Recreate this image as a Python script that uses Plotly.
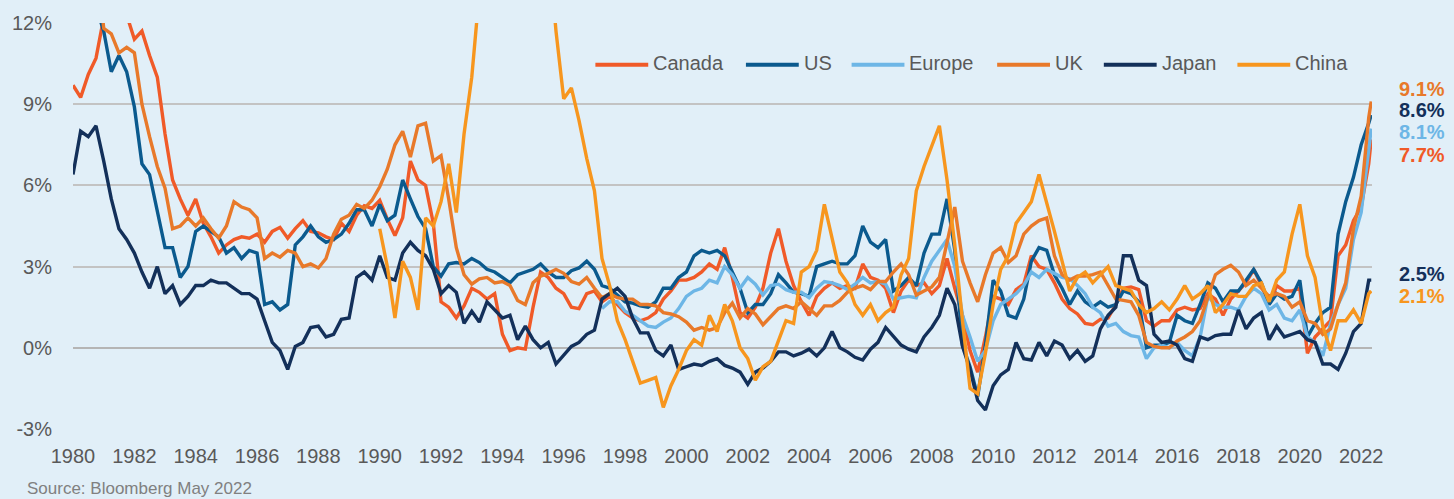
import pandas as pd
import plotly.graph_objects as go

# ---------------- data (quarterly readings, YoY CPI %) ----------------
dates = list(pd.date_range("1980-01-01", "2022-04-01", freq="QS")) + [pd.Timestamp("2022-05-01")]

canada = [
    9.7, 9.25, 10.1, 10.7,  12.2, 12.6, 12.8, 12.3,  11.4, 11.7, 10.8, 10.0,  7.9, 6.2, 5.5, 4.9,
    5.5, 4.6, 4.1, 3.5,  3.8, 4.0, 4.1, 4.05,  4.2, 3.9, 4.3, 4.45,  4.05, 4.4, 4.7, 4.3,
    4.25, 4.1, 4.0, 4.6,  4.3, 4.9, 5.25, 5.15,  5.45, 4.75, 4.15, 4.8,  6.9, 6.2, 6.0, 4.6,
    1.7, 1.5, 1.1, 1.55,  2.2, 2.05, 1.8, 2.0,  0.5, -0.1, 0.0, -0.05,  1.5, 2.8, 2.6, 2.2,
    2.0, 1.5, 1.45, 2.0,  2.1, 1.7, 1.9, 1.6,  1.3, 1.1, 1.0, 1.1,  1.3, 1.8, 2.1, 2.5,
    2.5, 2.6, 2.8, 3.1,  2.9, 3.7, 2.6, 1.3,  1.1, 1.5, 2.2, 3.5,  4.4, 3.2, 2.3, 1.7,
    1.2, 1.9, 2.2, 2.4,  2.2, 2.3, 2.2, 3.1,  2.6, 2.5, 2.2, 1.3,  2.1, 2.5, 2.3, 2.4,
    2.0, 2.3, 3.3, 2.2,  1.2, -0.1, -0.9, 0.4,  1.9, 1.8, 1.6, 2.15,  2.35, 3.4, 3.0, 2.9,
    2.4, 1.8, 1.45, 1.25,  0.9, 0.85, 1.05, 1.1,  1.6, 2.2, 2.25, 2.15,  1.0, 0.8, 1.0, 1.0,
    1.4, 1.5, 1.4, 1.45,  2.0, 1.8, 1.2, 1.8,  2.1, 2.4, 2.9, 2.3,  1.6, 2.3, 2.1, 2.1,
    2.2, -0.2, 0.4, 0.7,  1.0, 3.4, 3.8, 4.7,  5.2, 6.8, 7.7,
]

us = [
    13.9, 14.7, 13.1, 12.6,  11.7, 10.2, 10.8, 10.2,  8.9, 6.8, 6.4, 5.0,  3.7, 3.7, 2.6, 3.0,
    4.3, 4.5, 4.3, 4.1,  3.5, 3.7, 3.3, 3.6,  3.5, 1.6, 1.7, 1.4,  1.6, 3.8, 4.1, 4.5,
    4.1, 3.9, 4.0, 4.2,  4.6, 5.1, 5.1, 4.5,  5.3, 4.7, 4.9, 6.2,  5.5, 4.85, 4.4, 3.0,
    2.65, 3.1, 3.15, 3.1,  3.3, 3.15, 2.9, 2.8,  2.6, 2.4, 2.7, 2.8,  2.9, 3.1, 2.8, 2.6,
    2.6, 2.85, 2.95, 3.2,  2.9, 2.3, 2.2, 1.95,  1.7, 1.65, 1.55, 1.5,  1.7, 2.2, 2.2, 2.6,
    2.8, 3.4, 3.6, 3.5,  3.6, 3.4, 2.8, 2.2,  1.3, 1.6, 1.6, 2.0,  2.7, 2.4, 2.05, 2.0,
    1.9, 3.0, 3.1, 3.2,  3.1, 3.1, 3.4, 4.5,  3.9, 3.7, 4.0, 2.1,  2.3, 2.6, 2.3, 3.5,
    4.2, 4.2, 5.5, 3.6,  0.1, -0.7, -1.8, 0.1,  2.5, 2.1, 1.2, 1.1,  1.8, 3.2, 3.7, 3.6,
    2.7, 2.2, 1.6, 2.1,  1.7, 1.5, 1.7, 1.5,  1.6, 2.1, 2.0, 1.7,  0.0, 0.1, 0.1, 0.2,
    1.2, 1.0, 0.9, 1.6,  2.4, 2.2, 1.7, 2.1,  2.1, 2.5, 2.9, 2.4,  1.6, 2.0, 1.8, 1.9,
    2.5, 0.4, 0.9, 1.3,  1.5, 4.2, 5.4, 6.3,  7.5, 8.3, 8.6,
]

europe = [None] * 69 + [
    1.45, 1.7, 1.7,  1.35, 1.2, 1.0, 0.8,  0.75, 0.95, 1.1, 1.45,
    1.9, 2.1, 2.2, 2.5,  2.4, 3.0, 2.7, 2.2,  2.6, 2.35, 1.95, 2.3,  2.35, 2.15, 2.05, 2.05,
    1.85, 2.2, 2.45, 2.4,  2.3, 2.15, 2.35, 2.6,  2.4, 2.45, 2.35, 1.8,  1.85, 1.9, 1.85, 2.6,
    3.2, 3.6, 4.0, 3.0,  1.2, 0.4, -0.5, -0.1,  1.0, 1.6, 1.8, 2.0,  2.3, 2.8, 2.6, 2.9,
    2.75, 2.6, 2.55, 2.3,  2.0, 1.5, 1.3, 0.8,  0.9, 0.6, 0.45, 0.4,  -0.4, 0.0, 0.1, 0.0,
    0.2, -0.1, -0.3, 0.4,  1.9, 1.6, 1.5, 1.5,  1.4, 1.9, 2.2, 2.0,  1.4, 1.6, 1.1, 1.0,
    1.4, 0.4, 0.2, -0.3,  0.9, 1.6, 2.2, 4.0,  5.0, 7.4, 8.1,
]

uk = [
    18.4, 21.0, 16.9, 14.5,  11.8, 11.6, 10.9, 11.1,  10.9, 9.0, 7.8, 6.7,  5.9, 4.4, 4.5, 4.8,
    4.5, 4.8, 4.4, 4.05,  4.5, 5.4, 5.2, 5.1,  4.8, 3.3, 3.5, 3.35,  3.6, 3.5, 3.0, 3.1,
    2.95, 3.3, 4.2, 4.75,  4.9, 5.3, 5.15, 5.45,  5.95, 6.6, 7.5, 8.0,  7.05, 8.2, 8.3, 6.9,
    7.1, 5.5, 3.7, 2.7,  2.35, 2.55, 2.6, 2.4,  2.45, 2.3, 1.75, 1.6,  2.4, 2.65, 2.75, 2.9,
    2.75, 2.45, 2.35, 2.6,  2.2, 1.85, 2.0, 1.85,  1.8, 1.8, 1.6, 1.6,  1.55, 1.3, 1.25, 1.15,
    0.95, 0.65, 0.75, 0.65,  0.75, 1.3, 1.65, 1.1,  1.45, 1.25, 0.85, 1.15,  1.45, 1.55, 1.45, 1.7,
    1.45, 1.2, 1.55, 1.55,  1.75, 2.05, 2.2, 2.3,  2.15, 2.45, 2.45, 2.8,  3.1, 2.7, 1.95, 2.1,
    2.25, 2.6, 3.9, 5.2,  3.2, 2.4, 1.7, 2.7,  3.5, 3.7, 3.15, 3.4,  4.2, 4.5, 4.7, 4.8,
    3.4, 2.7, 2.5, 2.65,  2.65, 2.7, 2.8, 2.3,  1.8, 1.75, 1.7, 1.2,  0.2, 0.05, 0.0, 0.0,
    0.25, 0.4, 0.6, 1.0,  1.9, 2.7, 2.9, 3.05,  2.8, 2.3, 2.5, 2.2,  1.9, 2.0, 1.9, 1.5,
    1.7, 1.0, 0.9, 0.5,  0.7, 1.6, 2.4, 4.4,  5.6, 8.5, 9.1,
]

japan = [
    6.4, 8.0, 7.8, 8.2,  6.9, 5.5, 4.4, 4.0,  3.5, 2.8, 2.2, 3.0,  2.0, 2.3, 1.6, 1.9,
    2.3, 2.3, 2.5, 2.4,  2.4, 2.2, 2.0, 2.0,  1.8, 1.0, 0.2, -0.1,  -0.8, 0.05, 0.2, 0.75,
    0.8, 0.4, 0.5, 1.05,  1.1, 2.6, 2.8, 2.5,  3.4, 2.6, 2.5, 3.5,  3.9, 3.6, 3.4, 2.9,
    2.0, 2.3, 2.05, 0.9,  1.35, 0.95, 1.7, 1.4,  1.1, 1.2, 0.3, 0.8,  0.3, 0.0, 0.2, -0.6,
    -0.25, 0.05, 0.2, 0.5,  0.65, 1.8, 2.0, 2.2,  1.9, 1.1, 0.55, 0.55,  -0.1, -0.3, 0.1, -0.8,
    -0.7, -0.6, -0.65, -0.5,  -0.4, -0.65, -0.75, -0.9,  -1.35, -0.9, -0.75, -0.5,  -0.15, -0.15, -0.3, -0.2,
    -0.05, -0.3, 0.0, 0.6,  0.0, -0.15, -0.35, -0.45,  -0.05, 0.2, 0.75, 0.4,  0.1, -0.05, -0.15, 0.4,
    0.75, 1.2, 2.2, 1.6,  0.05, -0.8, -1.95, -2.3,  -1.4, -1.0, -0.8, 0.2,  -0.4, -0.45, 0.2, -0.3,
    0.25, 0.1, -0.4, -0.1,  -0.5, -0.3, 0.7, 1.2,  1.5, 3.4, 3.4, 2.5,  2.3, 0.5, 0.2, 0.25,
    0.1, -0.4, -0.5, 0.4,  0.3, 0.45, 0.5, 0.5,  1.4, 0.7, 1.1, 1.3,  0.3, 0.8, 0.4, 0.5,
    0.6, 0.3, 0.2, -0.6,  -0.6, -0.8, -0.2, 0.6,  0.9, 2.5, 2.5,
]

china = [None] * 40 + [
    4.4, 3.0, 1.1, 3.2,  2.6, 1.4, 4.8, 4.5,  5.4, 6.8, 5.0, 7.9,  10.0, 13.5, 17.0, 19.5,
    21.0, 22.0, 24.0, 27.0,  22.0, 19.0, 15.0, 11.7,  9.2, 9.6, 8.4, 7.0,  5.8, 3.3, 2.3, 1.0,
    0.3, -0.5, -1.3, -1.2,  -1.1, -2.2, -1.4, -0.8,  -0.1, 0.3, 0.1, 1.2,  0.6, 1.6, 1.0, 0.0,
    -0.4, -1.2, -0.7, -0.5,  0.3, 1.0, 0.9, 2.8,  3.0, 3.6, 5.3, 4.0,  2.8, 2.4, 1.6, 1.2,
    1.6, 1.0, 1.3, 1.5,  2.7, 3.3, 5.8, 6.7,  7.5, 8.2, 6.2, 3.8,  1.0, -1.5, -1.7, -0.2,
    1.6, 2.9, 3.4, 4.6,  5.0, 5.4, 6.4, 5.4,  4.3, 3.2, 2.1, 2.6,  2.8, 2.4, 2.7, 3.0,
    2.3, 2.2, 2.1, 1.6,  1.3, 1.45, 1.7, 1.4,  1.8, 2.3, 1.8, 2.0,  2.3, 1.3, 1.6, 2.0,
    1.9, 1.9, 2.3, 2.4,  1.7, 2.5, 2.8, 4.2,  5.3, 3.4, 2.6, 0.8,  -0.1, 1.0, 1.0, 1.4,
    0.9, 2.0, 2.1,
]

names = ["Canada", "US", "Europe", "UK", "Japan", "China"]
values = [canada, us, europe, uk, japan, china]
colors = ["#f05a28", "#0b5a8e", "#6db6e6", "#e8792a", "#13305a", "#f7961e"]

y_ticks = [-3, 0, 3, 6, 9, 12]
y_tick_labels = ["-3%", "0%", "3%", "6%", "9%", "12%"]
source_text = "Source: Bloomberg May 2022"

for v in values:
    assert len(v) == len(dates), len(v)

# ---------------- figure ----------------
W, H = 1454, 499
L, R, T, B = 69, 82, 20, 70
PW, PH = W - L - R, H - T - B


def px(xp):
    return (xp - L) / PW


def py(yp):
    return (H - B - yp) / PH


fig = go.Figure()
for name, vals, col in zip(names, values, colors):
    fig.add_trace(go.Scatter(
        x=dates, y=vals, mode="lines", name=name,
        line=dict(color=col, width=3.4), showlegend=False,
        hoverinfo="skip",
    ))

bg = "#e1eff8"
fig.update_layout(
    width=W, height=H,
    margin=dict(l=L, r=R, t=T, b=B, pad=0),
    paper_bgcolor=bg, plot_bgcolor=bg,
    font=dict(family="Liberation Sans, Arial, sans-serif", color="#595959", size=20),
    xaxis=dict(
        type="date",
        range=["1980-01-01", "2022-05-10"],
        tick0="1980-01-01", dtick="M24", tickformat="%Y",
        showgrid=False, zeroline=False, showline=False,
        ticks="outside", ticklen=9, tickcolor="rgba(0,0,0,0)",
        tickfont=dict(size=20, color="#595959"),
    ),
    yaxis=dict(
        range=[-3, 12], tickmode="array", tickvals=y_ticks, ticktext=y_tick_labels,
        showgrid=True, gridcolor="#c3c3c3", gridwidth=2,
        zeroline=True, zerolinecolor="#b5b5b5", zerolinewidth=2,
        showline=False,
        ticks="outside", ticklen=16, tickcolor="rgba(0,0,0,0)",
        tickfont=dict(size=20, color="#595959"),
    ),
)

# ---------------- legend drawn as line + label ----------------
legend_x = [593, 744, 850, 996, 1103, 1237]
legend_y = 62
shapes = []
annotations = []
for name, col, x0 in zip(names, colors, legend_x):
    shapes.append(dict(type="line", xref="paper", yref="paper",
                       x0=px(x0), x1=px(x0 + 53), y0=py(legend_y), y1=py(legend_y),
                       line=dict(color=col, width=4)))
    annotations.append(dict(xref="paper", yref="paper", x=px(x0 + 56), y=py(legend_y - 2),
                            xanchor="left", yanchor="middle", showarrow=False,
                            text=name, font=dict(size=20, color="#595959")))

# ---------------- end-value labels ----------------
end_labels = [
    (uk, "#e8792a", 86),
    (us, "#13305a", 108),
    (europe, "#6db6e6", 130),
    (canada, "#f05a28", 153),
    (japan, "#13305a", 273),
    (china, "#f7961e", 295),
]
for vals, col, yp in end_labels:
    annotations.append(dict(xref="paper", yref="paper", x=px(1422), y=py(yp),
                            xanchor="center", yanchor="middle", showarrow=False,
                            text="<b>%.1f%%</b>" % vals[-1],
                            font=dict(size=20, color=col)))

annotations.append(dict(xref="paper", yref="paper", x=px(21), y=py(477),
                        xanchor="left", yanchor="top", showarrow=False,
                        text=source_text, font=dict(size=17, color="#808080")))

fig.update_layout(shapes=shapes, annotations=annotations)

fig.write_html("out.html", config={"displayModeBar": False},
               post_script="document.body.style.margin='0px';document.body.style.overflow='hidden';")
